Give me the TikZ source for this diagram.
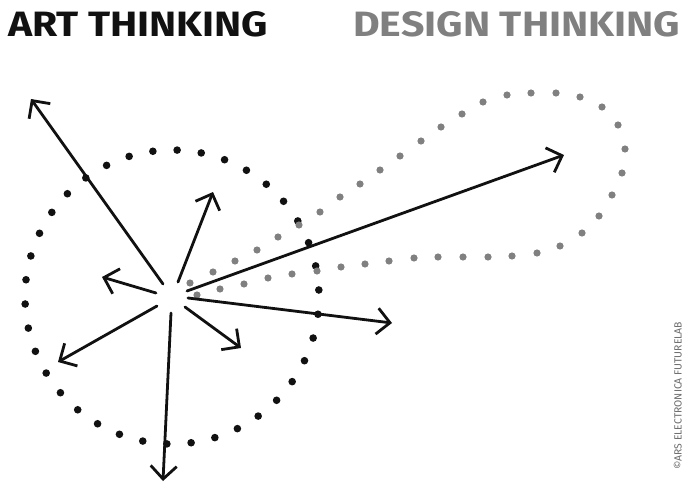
\documentclass[tikz,border=0pt]{standalone}
\usepackage{fontspec}
\setmainfont{Fira Sans}
\usetikzlibrary{arrows.meta,calc}
\definecolor{dgray}{HTML}{808080}
\definecolor{cgray}{HTML}{6A6A6A}
\definecolor{ink}{HTML}{111111}
\tikzset{
  ray/.style={draw=ink, line width=2.8pt, line cap=round,
    -{Straight Barb[length=13pt,width=26pt,line width=2.8pt]}},
  bdot/.style={fill=ink, draw=none},
  gdot/.style={fill=dgray, draw=none},
  title/.style={inner sep=0pt, anchor=south west, font=\bfseries}
}
\begin{document}
\begin{tikzpicture}[x=1pt,y=-1pt]
\useasboundingbox (0,0) rectangle (683,484);
% titles
\node[title, text=ink] (art) at (8,37) {\resizebox{260pt}{25pt}{ART THINKING}};
\node[title, text=dgray] (des) at (353,37) {\resizebox{327pt}{25pt}{DESIGN THINKING}};
% copyright
\node[inner sep=0pt, rotate=90, anchor=south west, text=cgray] (copy) at (682,470)
  {\resizebox{148pt}{!}{\fontsize{8pt}{8pt}\selectfont ©ARS ELECTRONICA FUTURELAB}};
% black dotted circle
\coordinate (c) at (172,297);
\foreach \i in {0,...,37}{
  \fill[bdot] ($(c)+({92+\i*360/38}:147)$) circle (3.8pt);
}
% gray loop
\foreach \p in {(190,283),(213,272),(235,261),(257,250),(278,237),(299,225),(320,212),
  (340,197),(360,184),(380,170),(400,156),(421,141),(441,127),(462,114),(483,102),
  (507,95),(531,93),(556,93),(580,97),(602,107),(618,125),(625,149),(622,173),
  (612,195),(599,216),(582,233),(560,246),(537,253),(512,256),(488,257),(463,257),
  (438,257),(414,258),(389,261),(365,264),(341,267),(317,271),(292,274),(268,278),
  (244,284),(220,289),(197,295)}{
  \fill[gdot] \p circle (3.6pt);
}
% ray start and end points
\coordinate (s1) at (163,284); \coordinate (e1) at (31,99);
\coordinate (s2) at (178,282); \coordinate (e2) at (213,192);
\coordinate (s3) at (156,293); \coordinate (e3) at (102,277);
\coordinate (s4) at (157,306); \coordinate (e4) at (58,362);
\coordinate (s5) at (171,313); \coordinate (e5) at (163,481);
\coordinate (s6) at (185,307); \coordinate (e6) at (241,348);
\coordinate (s7) at (188,298); \coordinate (e7) at (392,323);
\coordinate (s8) at (187,291); \coordinate (e8) at (564,155);
\foreach \k in {1,...,8}{
  \draw[ray] (s\k) -- (e\k);
}
\end{tikzpicture}
\end{document}
